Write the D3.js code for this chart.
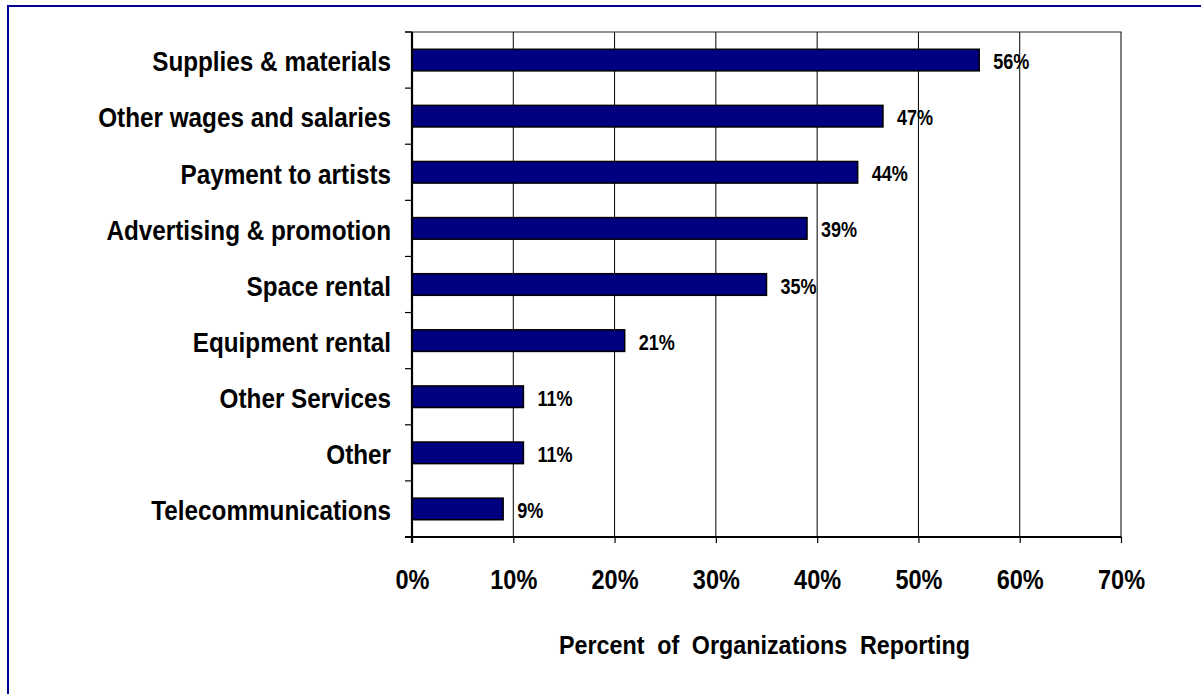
<!DOCTYPE html>
<html>
<head>
<meta charset="utf-8">
<script src="https://cdn.jsdelivr.net/npm/d3@7/dist/d3.min.js"></script>
<style>
  html, body { margin: 0; padding: 0; background: #fff; }
  svg { display: block; font-family: "Liberation Sans", Arial, sans-serif; font-weight: bold; }
</style>
</head>
<body>
<svg id="chart" width="1201" height="694"></svg>
<script>
const categories = [
  "Supplies & materials",
  "Other wages and salaries",
  "Payment to artists",
  "Advertising & promotion",
  "Space rental",
  "Equipment rental",
  "Other Services",
  "Other",
  "Telecommunications"
];
const values = [56, 46.5, 44, 39, 35, 21, 11, 11, 9];
const valueLabels = ["56%", "47%", "44%", "39%", "35%", "21%", "11%", "11%", "9%"];
const xTicks = [0, 10, 20, 30, 40, 50, 60, 70];
const xTitle = "Percent of Organizations Reporting";

const svg = d3.select("#chart");
const SX = 0.84;     // horizontal condensing of tick/value text
const SX_CAT = 0.852; // category labels
const SX_TITLE = 0.88;

// outer border (extends past the window on right & bottom)
svg.append("rect")
  .attr("x", 8).attr("y", 6)
  .attr("width", 1400).attr("height", 900)
  .attr("fill", "none")
  .attr("stroke", "#000090")
  .attr("stroke-width", 2);

const pLeft = 412, pRight = 1121, pTop = 32, pBottom = 537;

const x = d3.scaleLinear().domain([0, 70]).range([pLeft, pRight]);
const y = d3.scaleBand().domain(categories).range([pTop, pBottom])
  .paddingInner(0.615).paddingOuter(0.3075);

// gridlines
svg.append("g").selectAll("line")
  .data(xTicks.slice(1))
  .join("line")
  .attr("x1", d => x(d)).attr("x2", d => x(d))
  .attr("y1", pTop).attr("y2", pBottom)
  .attr("stroke", "#000").attr("stroke-width", 1);

// plot top border
svg.append("line")
  .attr("x1", pLeft - 7).attr("x2", pRight + 0.5)
  .attr("y1", pTop).attr("y2", pTop)
  .attr("stroke", "#222").attr("stroke-width", 1.2);

// bars
svg.append("g").selectAll("rect")
  .data(values)
  .join("rect")
  .attr("x", x(0))
  .attr("y", (d, i) => y(categories[i]))
  .attr("width", d => x(d) - x(0))
  .attr("height", y.bandwidth())
  .attr("fill", "#000080")
  .attr("stroke", "#000")
  .attr("stroke-width", 1.5);

// value labels
svg.append("g").selectAll("text")
  .data(values)
  .join("text")
  .attr("transform", (d, i) => `translate(${x(d) + 14},${y(categories[i]) + y.bandwidth() / 2}) scale(${SX},1)`)
  .attr("dy", "0.42em")
  .attr("font-size", 21.5)
  .attr("fill", "#000")
  .text((d, i) => valueLabels[i]);

// x axis
const xAxis = d3.axisBottom(x).tickValues(xTicks).tickFormat(d => d + "%")
  .tickSize(6).tickSizeOuter(0).tickPadding(26);
const gx = svg.append("g").attr("transform", `translate(0,${pBottom})`).call(xAxis);
gx.select(".domain").attr("stroke", "#000").attr("stroke-width", 2.2)
  .attr("d", `M${pLeft - 7},0H${pRight + 0.5}`);
gx.selectAll(".tick line").attr("stroke", "#000").attr("stroke-width", 1.2);
gx.selectAll(".tick text")
  .attr("font-size", 28).attr("font-family", "Liberation Sans, Arial, sans-serif")
  .attr("font-weight", "bold").attr("fill", "#000")
  .attr("transform", `scale(${SX},1)`);

// y axis line
svg.append("line")
  .attr("x1", pLeft).attr("x2", pLeft)
  .attr("y1", pTop).attr("y2", pBottom + 6)
  .attr("stroke", "#000").attr("stroke-width", 2.2);

// category boundary ticks
svg.append("g").selectAll("line")
  .data(d3.range(categories.length + 1))
  .join("line")
  .attr("x1", pLeft - 7).attr("x2", pLeft)
  .attr("y1", i => pTop + i * y.step()).attr("y2", i => pTop + i * y.step())
  .attr("stroke", "#000").attr("stroke-width", 1.2);

// category labels
svg.append("g").selectAll("text")
  .data(categories)
  .join("text")
  .attr("transform", d => `translate(${pLeft - 21},${y(d) + y.bandwidth() / 2 + 1}) scale(${SX_CAT},1)`)
  .attr("dy", "0.36em")
  .attr("text-anchor", "end")
  .attr("font-size", 28.5)
  .attr("fill", "#000")
  .text(d => d);

// x title
svg.append("text")
  .attr("transform", `translate(${(pLeft + pRight) / 2 - 2},654) scale(${SX_TITLE},1)`)
  .attr("text-anchor", "middle")
  .attr("font-size", 26.5)
  .attr("word-spacing", 7)
  .attr("fill", "#000")
  .text(xTitle);
</script>
</body>
</html>
